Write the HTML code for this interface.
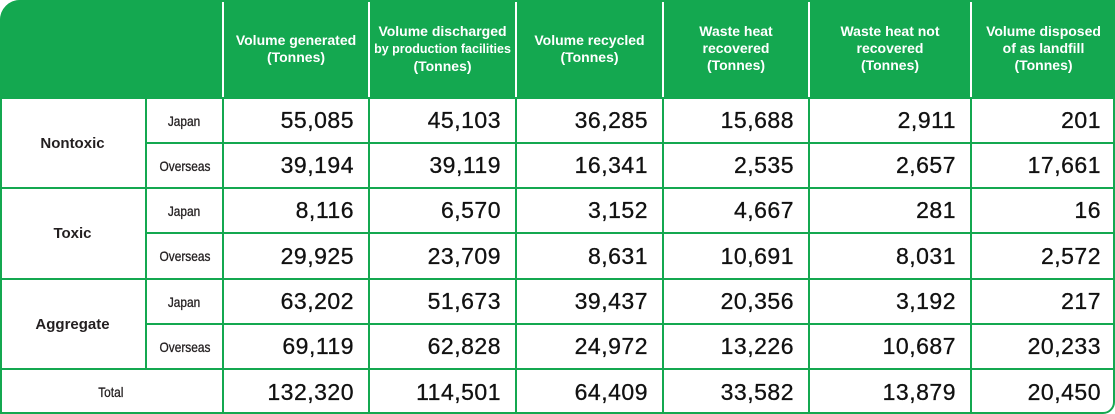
<!DOCTYPE html>
<html><head><meta charset="utf-8"><style>
body{margin:0;width:1115px;height:414px;background:#fff;overflow:hidden;font-family:"Liberation Sans",sans-serif}
#t{position:absolute;left:0;top:0;width:1115px;height:414px}
.c{position:absolute;box-sizing:border-box;display:flex;align-items:center;justify-content:center;text-align:center}
.c>div{display:block}
.h{color:#fff;font-weight:bold;font-size:14px;line-height:17px;border-left:2px solid #fff}
.n{justify-content:flex-end;padding-right:14px;font-size:23px;letter-spacing:0.5px;color:#111;border-left:2px solid #14a850;border-top:2px solid #14a850;-webkit-text-stroke:0.3px #111}
.l{font-size:15px;font-weight:bold;color:#231f20;border-left:2px solid #14a850;border-top:2px solid #14a850}
.s{font-size:14px;font-weight:normal;-webkit-text-stroke:0.3px #231f20}
.s>div{transform:scaleX(0.85)}
</style></head><body>
<div id="t">
<div style="position:absolute;left:0;top:0;width:1115px;height:97px;background:#14a850;border-top-left-radius:20px"></div>
<div style="position:absolute;left:0;top:0;width:1115px;height:414px;box-sizing:border-box;border:2px solid #14a850;border-top-left-radius:20px;border-bottom-right-radius:12px;z-index:5;pointer-events:none"></div>
</div>
<script>
const headers=["Volume generated<br>(Tonnes)","Volume discharged<br><span style='font-size:12.5px'>by production facilities</span><br>(Tonnes)","Volume recycled<br>(Tonnes)","Waste heat<br>recovered<br>(Tonnes)","Waste heat not<br>recovered<br>(Tonnes)","Volume disposed<br>of as landfill<br>(Tonnes)"];
const groups=["Nontoxic","Toxic","Aggregate"];
const regions=["Japan","Overseas"];
const rows=[
["55,085","45,103","36,285","15,688","2,911","201"],
["39,194","39,119","16,341","2,535","2,657","17,661"],
["8,116","6,570","3,152","4,667","281","16"],
["29,925","23,709","8,631","10,691","8,031","2,572"],
["63,202","51,673","39,437","20,356","3,192","217"],
["69,119","62,828","24,972","13,226","10,687","20,233"]];
const totals=["132,320","114,501","64,409","33,582","13,879","20,450"];
const xs=[0,145,222,368,515,662,808,970,1115];
const ys=[0,97,142,187,232,278,323,368,414];
const t=document.getElementById('t');
function cell(cls,x0,x1,y0,y1,html,name){
 const d=document.createElement('div');d.className='c '+cls;
 d.style.left=x0+'px';d.style.top=y0+'px';d.style.width=(x1-x0)+'px';d.style.height=(y1-y0)+'px';
 d.innerHTML='<div>'+html+'</div>';
 
 
 t.appendChild(d);return d;}
headers.forEach((h,i)=>{cell('h',xs[i+2],xs[i+3],0,97,h,'column-header-'+(i+1));});
groups.forEach((g,gi)=>{
 const d=cell('l',xs[0],xs[1],ys[1+gi*2],ys[3+gi*2],g,'group-label-'+g.toLowerCase());d.style.borderLeft='none';
 regions.forEach((r,ri)=>{
  const row=gi*2+ri;
  cell('l s',xs[1],xs[2],ys[1+row],ys[2+row],r,'region-label-'+r.toLowerCase());
  rows[row].forEach((v,ci)=>cell('n',xs[ci+2],xs[ci+3],ys[1+row],ys[2+row],v,'value-cell'));
 });
});
const tl=cell('l s',xs[0],xs[2],ys[7],ys[8],'Total','total-label');tl.style.borderLeft='none';
totals.forEach((v,ci)=>cell('n',xs[ci+2],xs[ci+3],ys[7],ys[8],v,'total-value'));
</script>
</body></html>
